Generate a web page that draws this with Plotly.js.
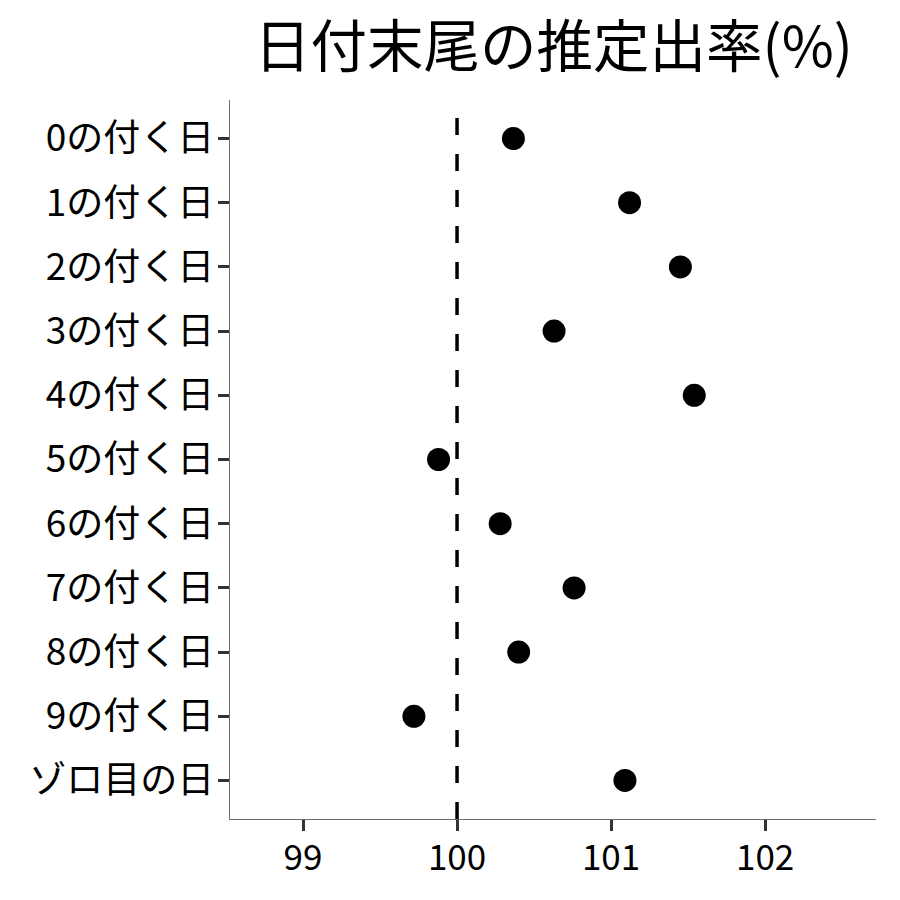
<!DOCTYPE html>
<html>
<head>
<meta charset="utf-8">
<script src="https://cdn.plot.ly/plotly-3.0.1.min.js"></script>
<style>html,body{margin:0;padding:0;background:#fff;}#chart{width:900px;height:900px;}</style>
</head>
<body>
<div id="chart"></div>
<script>
const categories = ["0の付く日","1の付く日","2の付く日","3の付く日","4の付く日","5の付く日","6の付く日","7の付く日","8の付く日","9の付く日","ゾロ目の日"];
const rates = [100.366, 101.12, 101.45, 100.63, 101.54, 99.88, 100.28, 100.76, 100.40, 99.72, 101.09];
const xTicks = [99, 100, 101, 102];
const refValue = 100;
const titleText = "日付末尾の推定出率(%)";

const font = "Noto Sans CJK JP, Noto Sans, sans-serif";

const trace = {
  type: "scatter",
  mode: "markers",
  x: rates,
  y: categories,
  marker: {color: "#000000", size: 23},
  hoverinfo: "x+y"
};

const layout = {
  width: 900, height: 900,
  paper_bgcolor: "#ffffff", plot_bgcolor: "#ffffff",
  margin: {l: 230, r: 24, t: 100, b: 81},
  showlegend: false,
  font: {family: font, color: "#000000"},
  title: {text: titleText, font: {family: font, size: 56.5, color: "#000000"}, x: 0.615, xanchor: "center", y: 0.948, yanchor: "middle"},
  xaxis: {
    range: [98.526, 102.72],
    tickvals: xTicks, ticktext: xTicks.map(String),
    showgrid: false, zeroline: false,
    showline: true, linecolor: "#6e6e6e", linewidth: 1.3,
    ticks: "outside", ticklen: 11, tickwidth: 3, tickcolor: "#333333",
    ticklabelstandoff: -3,
    tickfont: {family: font, size: 35, color: "#000000"}
  },
  yaxis: {
    type: "category",
    categoryorder: "array", categoryarray: categories,
    range: [10.6, -0.6],
    showgrid: false, zeroline: false,
    showline: true, linecolor: "#6e6e6e", linewidth: 1.3,
    ticks: "outside", ticklen: 11, tickwidth: 3, tickcolor: "#333333",
    ticklabelstandoff: -4,
    tickfont: {family: font, size: 37, color: "#000000"}
  },
  shapes: [{
    type: "line", xref: "x", yref: "paper",
    x0: refValue, x1: refValue, y0: 0, y1: 1,
    line: {color: "#000000", width: 3.5, dash: "17px,19px"},
    layer: "below"
  }]
};

Plotly.newPlot("chart", [trace], layout, {displayModeBar: false, staticPlot: true});
</script>
</body>
</html>
